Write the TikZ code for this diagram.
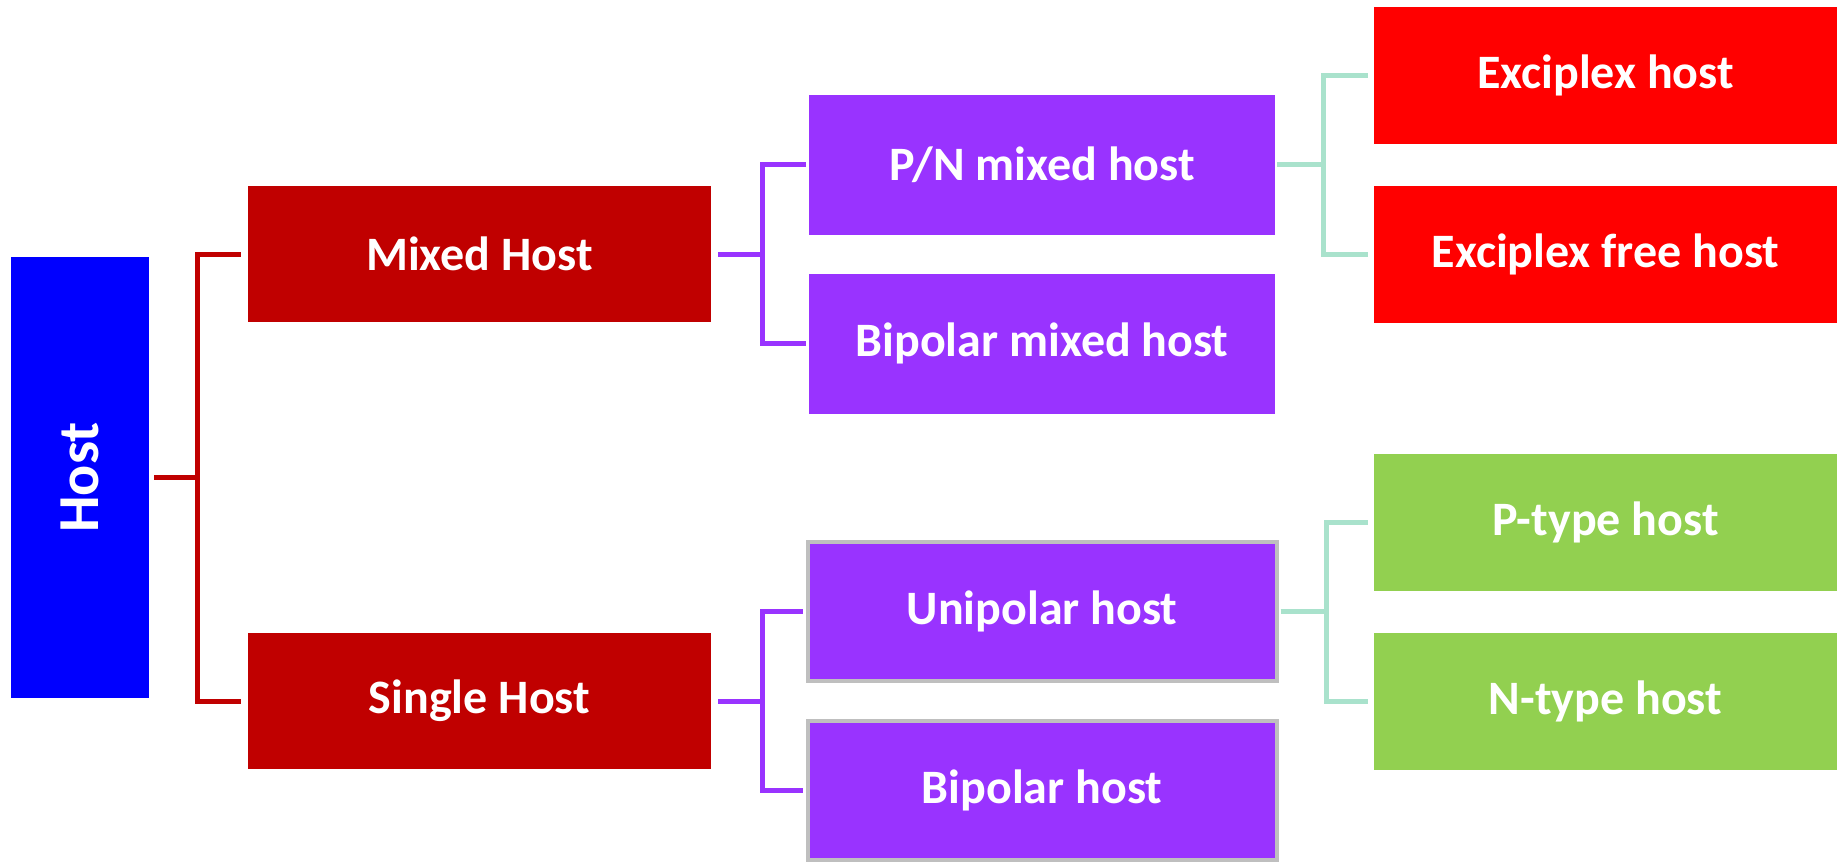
\documentclass[tikz,border=0pt]{standalone}
\usepackage{fontspec}
\setmainfont{Carlito}

\definecolor{hostblue}{HTML}{0000FF}
\definecolor{kindred}{HTML}{C00000}
\definecolor{classviolet}{HTML}{9933FF}
\definecolor{exred}{HTML}{FF0000}
\definecolor{typegreen}{HTML}{92D050}
\definecolor{forkmint}{HTML}{A9E2CC}
\definecolor{rimgray}{HTML}{BFBFBF}

\tikzset{
  every node/.style={text=white, inner sep=0pt, font=\bfseries\fontsize{24}{28}\selectfont},
  hostbox/.style={fill=hostblue, minimum width=69pt, minimum height=220.5pt, font=\bfseries\fontsize{29}{33}\selectfont},
  kindbox/.style={fill=kindred, minimum width=231.5pt, minimum height=68pt},
  classbox/.style={fill=classviolet, minimum width=233pt, minimum height=70pt},
  rimbox/.style={classbox, draw=rimgray, line width=2pt, minimum width=234.5pt, minimum height=69.5pt},
  exbox/.style={fill=exred, minimum width=231.5pt, minimum height=68.5pt},
  typebox/.style={fill=typegreen, minimum width=231.5pt, minimum height=68.5pt}
}

\begin{document}
\begin{tikzpicture}[grow'=right,
  level 1/.style={level distance=199.75pt, sibling distance=223.5pt,
    edge from parent/.style={draw=kindred, line width=2.5pt, shorten <=2.5pt, shorten >=3.5pt},
    edge from parent path={(\tikzparentnode.east) -- ++(24pt,0) |- (\tikzchildnode.west)}},
  level 2/.style={level distance=281.25pt, sibling distance=89.5pt,
    edge from parent/.style={draw=classviolet, line width=2.5pt, shorten <=3.5pt, shorten >=1.5pt},
    edge from parent path={(\tikzparentnode.east) -- ++(25.5pt,0) |- (\tikzchildnode.west)}},
  level 3/.style={level distance=281.75pt, sibling distance=89.5pt,
    edge from parent/.style={draw=forkmint, line width=2.5pt, shorten <=1pt, shorten >=3pt},
    edge from parent path={(\tikzparentnode.east) -- ++(24pt,0) |- (\tikzchildnode.west)}}]
  \useasboundingbox (0,0) rectangle (921.5pt,-431pt);
  \node[hostbox] (host) at (40pt,-238.75pt) {\rotatebox{90}{Host}}
    child {node[kindbox] (mixed) {Mixed Host}
      child {node[classbox] (pnmixed) {P/N mixed host}
        child {node[exbox] (exciplex) {Exciplex host}}
        child {node[exbox] (exfree) {Exciplex free host}}
      }
      child {node[classbox] (bimixed) {Bipolar mixed host}}
    }
    child {node[kindbox] (single) {Single Host}
      child {node[rimbox] (unipolar) {Unipolar host}
        child {node[typebox] (ptype) {P-type host}}
        child {node[typebox] (ntype) {N-type host}}
      }
      child {node[rimbox] (bipolar) {Bipolar host}}
    };
\end{tikzpicture}
\end{document}
